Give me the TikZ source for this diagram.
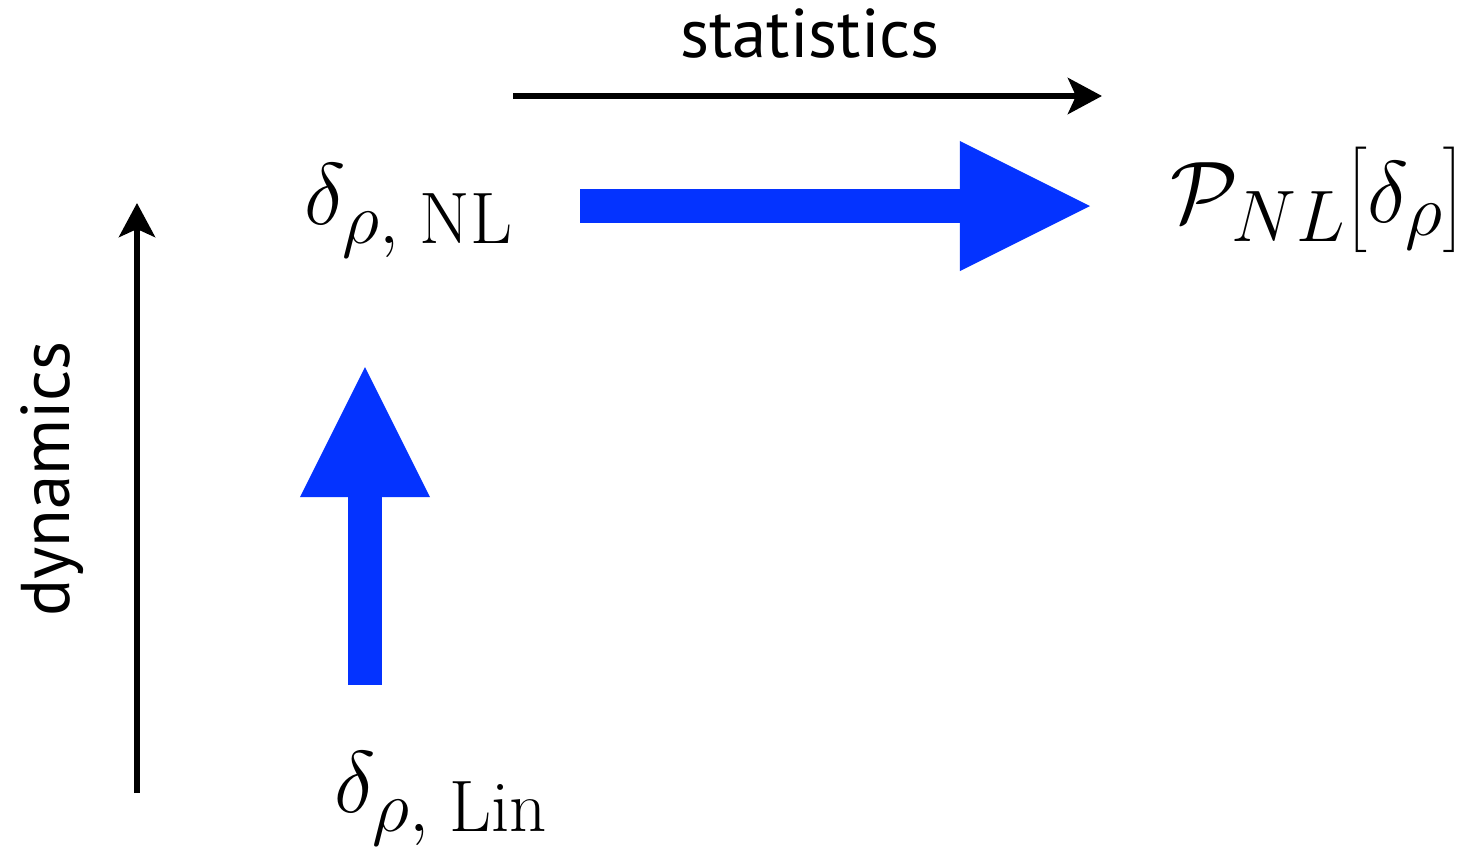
\documentclass[tikz,border=0pt]{standalone}
\usepackage{fontspec}
\setsansfont{PT Sans}
\usetikzlibrary{arrows.meta}
\definecolor{arrowblue}{RGB}{4,51,255}
\begin{document}
\begin{tikzpicture}[x=0.01cm, y=-0.01cm,
  thinarrow/.style={line width=0.06cm, -{Stealth[length=0.34cm, width=0.36cm, inset=0.08cm]}},
  bigarrow/.style={arrowblue, line width=0.33cm, -{Triangle[length=1.3cm, width=1.3cm, line width=0pt]}},
  mathlabel/.style={inner sep=0pt, font=\Huge},
  wordlabel/.style={inner sep=0pt, font=\fontsize{19.6}{24}\selectfont\sffamily}]
\useasboundingbox (0,0) rectangle (1465,851);
% axes
\coordinate (S0) at (513,96);
\coordinate (S1) at (1102,96);
\coordinate (D0) at (137,793);
\coordinate (D1) at (137,203);
\draw[thinarrow] (S0) -- (S1);
\draw[thinarrow] (D0) -- (D1);
\node[wordlabel, anchor=base] (stat) at (810,57) {statistics};
\node[wordlabel, anchor=base, rotate=90] (dyn) at (69,479) {dynamics};
% fields
\node[mathlabel, anchor=base west] (nl)  at (304,224) {$\delta_{\rho,\;\mathrm{NL}}$};
\node[mathlabel, anchor=base west] (lin) at (334,812) {$\delta_{\rho,\;\mathrm{Lin}}$};
\node[mathlabel, anchor=base west] (pnl) at (1170,222) {$\mathcal{P}_{NL}{\left[\delta_\rho\right]}$};
% blue arrows
\coordinate (H0) at (580,206);
\coordinate (H1) at (1090,206);
\coordinate (V0) at (365,685);
\coordinate (V1) at (365,367);
\draw[bigarrow] (H0) -- (H1);
\draw[bigarrow] (V0) -- (V1);
\end{tikzpicture}
\end{document}
